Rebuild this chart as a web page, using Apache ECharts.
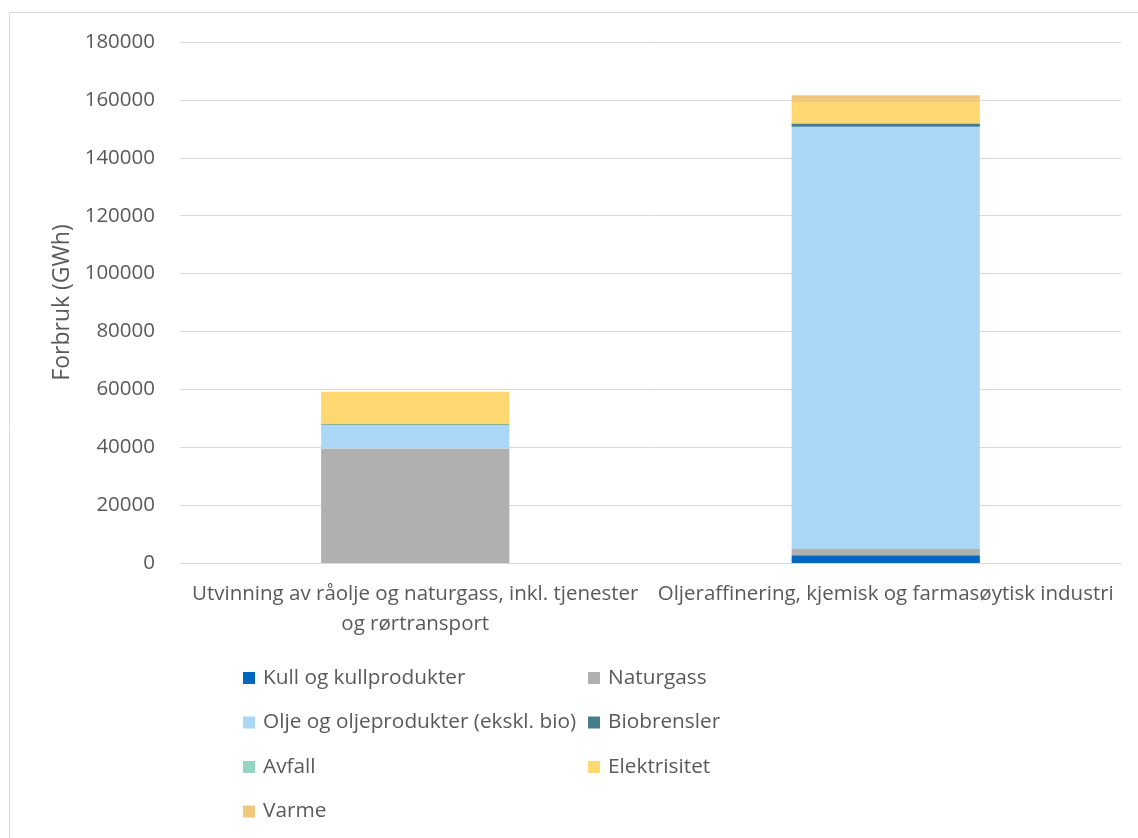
<!DOCTYPE html>
<html><head><meta charset="utf-8">
<script src="https://cdn.jsdelivr.net/npm/echarts@6/dist/echarts.min.js"></script>
<style>html,body{margin:0;padding:0;background:#fff}#c{width:1138px;height:838px}</style>
</head><body><div id="c"></div>
<script>
const categories = ["Utvinning av råolje og naturgass, inkl. tjenester\nog rørtransport", "Oljeraffinering, kjemisk og farmasøytisk industri"];
const seriesNames = ["Kull og kullprodukter","Naturgass","Olje og oljeprodukter (ekskl. bio)","Biobrensler","Avfall","Elektrisitet","Varme"];
const kull = [0, 2700];
const naturgass = [39600, 2100];
const olje = [8100, 145900];
const biobrensler = [250, 1100];
const avfall = [0, 100];
const elektrisitet = [11200, 7400];
const varme = [0, 2300];
const yTicks = [0, 20000, 40000, 60000, 80000, 100000, 120000, 140000, 160000, 180000];
const colors = ["#0066bf","#b0b0b0","#abd7f7","#457f8c","#95d3c2","#ffd871","#f2c87c"];
const values = [kull, naturgass, olje, biobrensler, avfall, elektrisitet, varme];
const font = "'Open Sans', sans-serif";
const txt = "#595959";
const chart = echarts.init(document.getElementById('c'), null, {renderer:'canvas'});
chart.setOption({
  animation:false,
  graphic:[{type:'rect', shape:{x:9.5,y:12.5,width:1140,height:840}, style:{fill:'none',stroke:'#d9d9d9',lineWidth:1}, silent:true}],
  grid:{left:180,right:17,top:42,bottom:275},
  xAxis:{type:'category',data:categories,
    axisLine:{lineStyle:{color:'#d9d9d9'}},axisTick:{show:false},
    axisLabel:{color:txt,fontFamily:font,fontSize:20.5,margin:16,lineHeight:30,interval:0}},
  yAxis:{type:'value',min:yTicks[0],max:yTicks[yTicks.length-1],interval:yTicks[1]-yTicks[0],
    name:'Forbruk (GWh)',nameLocation:'middle',nameGap:104,nameRotate:90,
    nameTextStyle:{color:txt,fontFamily:font,fontSize:23},
    axisLine:{show:false},axisTick:{show:false},
    axisLabel:{color:txt,fontFamily:font,fontSize:20.5,margin:25,formatter:v=>String(v)},
    splitLine:{lineStyle:{color:'#d9d9d9',width:1}}},
  legend:[
    {orient:'vertical',left:238,top:661,itemWidth:12,itemHeight:12,itemGap:20.5,icon:'rect',
     data:[seriesNames[0],seriesNames[2],seriesNames[4],seriesNames[6]],
     textStyle:{color:txt,fontFamily:font,fontSize:20.8,lineHeight:24,padding:[0,0,0,3]}},
    {orient:'vertical',left:583,top:661,itemWidth:12,itemHeight:12,itemGap:20.5,icon:'rect',
     data:[seriesNames[1],seriesNames[3],seriesNames[5]],
     textStyle:{color:txt,fontFamily:font,fontSize:20.8,lineHeight:24,padding:[0,0,0,3]}}
  ],
  series: seriesNames.map((n,i)=>({name:n,type:'bar',stack:'total',data:values[i],barWidth:'40%',
    itemStyle:{color:colors[i]}}))
});
</script></body></html>
